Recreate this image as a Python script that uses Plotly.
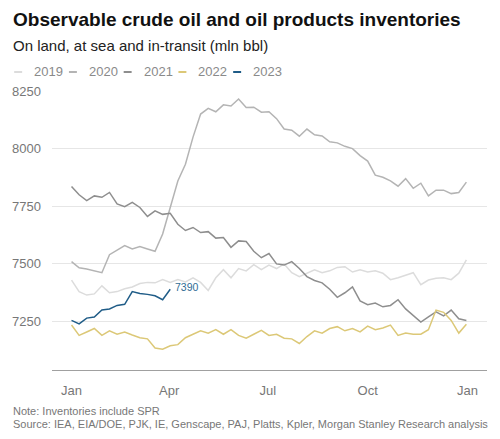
import pandas as pd
import plotly.graph_objects as go

# weekly readings, mln bbl (week 0 = Jan 1)
weeks = pd.date_range("2021-01-01", periods=53, freq="7D")

inv_2019 = [7430, 7380, 7365, 7370, 7405, 7375, 7380, 7392, 7400, 7415,
            7420, 7418, 7432, 7420, 7432, 7422, 7440, 7420, 7385, 7440,
            7475, 7440, 7480, 7470, 7497, 7475, 7495, 7480, 7500, 7462,
            7445, 7460, 7475, 7462, 7470, 7485, 7488, 7465, 7475, 7465,
            7470, 7460, 7432, 7440, 7450, 7462, 7410, 7430, 7438, 7440,
            7432, 7460, 7518]
inv_2020 = [7510, 7483, 7478, 7470, 7462, 7540, 7560, 7580, 7565, 7575,
            7565, 7555, 7630, 7750, 7860, 7932, 8050, 8150, 8175, 8160,
            8190, 8185, 8215, 8178, 8180, 8158, 8160, 8130, 8085, 8080,
            8054, 8085, 8060, 8055, 8030, 8025, 8010, 8000, 7970, 7946,
            7885, 7876, 7860, 7837, 7870, 7828, 7850, 7795, 7820, 7820,
            7805, 7810, 7855]
inv_2021 = [7836, 7800, 7775, 7795, 7789, 7810, 7760, 7748, 7767, 7745,
            7706, 7730, 7715, 7720, 7672, 7645, 7658, 7636, 7640, 7612,
            7615, 7572, 7600, 7597, 7555, 7527, 7545, 7500, 7495, 7510,
            7480, 7445, 7428, 7418, 7390, 7355, 7375, 7400, 7340, 7323,
            7330, 7314, 7320, 7345, 7305, 7275, 7248, 7270, 7292, 7275,
            7300, 7262, 7255]
inv_2022 = [7235, 7190, 7205, 7220, 7190, 7210, 7195, 7205, 7192, 7180,
            7175, 7135, 7130, 7145, 7150, 7180, 7195, 7210, 7200, 7215,
            7195, 7215, 7190, 7178, 7195, 7212, 7190, 7195, 7178, 7175,
            7155, 7185, 7210, 7200, 7220, 7228, 7210, 7220, 7205, 7230,
            7215, 7222, 7235, 7190, 7200, 7195, 7195, 7215, 7300, 7290,
            7255, 7200, 7238]
inv_2023 = [7255, 7240, 7265, 7270, 7300, 7305, 7320, 7325, 7380, 7372,
            7368, 7362, 7345, 7390]

years = ["2019", "2020", "2021", "2022", "2023"]
series = [inv_2019, inv_2020, inv_2021, inv_2022, inv_2023]
colors = ["#dcdcdc", "#b4b4b4", "#8e8e8e", "#dcc877", "#1f5c87"]

tick_dates = ["2021-01-01", "2021-04-01", "2021-07-01", "2021-10-01", "2022-01-01"]
tick_text = ["Jan", "Apr", "Jul", "Oct", "Jan"]

W, H = 500, 439
L, R, T, B = 50, 13, 91, 69
pw, ph = W - L - R, H - T - B


def px(x):
    return (x - L) / pw


def py(y):
    return (H - B - y) / ph


fig = go.Figure()
for yr, vals, col in zip(years, series, colors):
    fig.add_trace(go.Scatter(
        x=weeks[:len(vals)], y=vals, mode="lines", name=yr,
        line=dict(color=col, width=1.5), showlegend=False,
    ))

# end label for latest year
fig.add_annotation(x=weeks[len(inv_2023) - 1], y=inv_2023[-1],
                   text=str(inv_2023[-1]), showarrow=False,
                   xanchor="left", xshift=3, yshift=2,
                   font=dict(size=10.5, color="#2f6d94"))

# header and footer texts
texts = [
    (19, "<b>Observable crude oil and oil products inventories</b>", 19, "#111"),
    (46, "On land, at sea and in-transit (mln bbl)", 15, "#222"),
    (411, "Note: Inventories include SPR", 11, "#777"),
    (424, "Source: IEA, EIA/DOE, PJK, IE, Genscape, PAJ, Platts, Kpler, Morgan Stanley Research analysis", 11, "#777"),
]
for ypos, txt, fs, col in texts:
    fig.add_annotation(text=txt, xref="paper", yref="paper", x=px(9), y=py(ypos),
                       xanchor="left", yanchor="middle", showarrow=False,
                       font=dict(size=fs, color=col))

# legend row: short dash + year
for i, (yr, col) in enumerate(zip(years, colors)):
    x0 = 12 + 55 * i
    fig.add_shape(type="line", xref="paper", yref="paper",
                  x0=px(x0), x1=px(x0 + 8), y0=py(72), y1=py(72),
                  line=dict(color=col, width=2))
    fig.add_annotation(text=yr, xref="paper", yref="paper", x=px(x0 + 18), y=py(72),
                       xanchor="left", yanchor="middle", showarrow=False,
                       font=dict(size=13, color="#8a8a8a"))

fig.update_layout(
    width=W, height=H,
    margin=dict(l=L, r=R, t=T, b=B),
    paper_bgcolor="white", plot_bgcolor="white",
    font=dict(family="Liberation Sans, Arial, sans-serif", color="#777"),
)

fig.update_xaxes(
    range=["2020-12-14", "2022-01-19"],
    tickvals=tick_dates, ticktext=tick_text,
    showgrid=False, showline=True, linecolor="#a0a0a0", linewidth=1,
    ticks="", tickfont=dict(size=13, color="#777"), ticklabelstandoff=8,
)
fig.update_yaxes(
    range=[7040, 8250], tickvals=[7250, 7500, 7750, 8000, 8250],
    showgrid=True, gridcolor="#e6e6e6", gridwidth=1, zeroline=False,
    ticks="", tickfont=dict(size=13, color="#777"), ticklabelstandoff=10,
)

fig.write_html("out.html", config={"displayModeBar": False},
               post_script="document.body.style.margin='0';")
